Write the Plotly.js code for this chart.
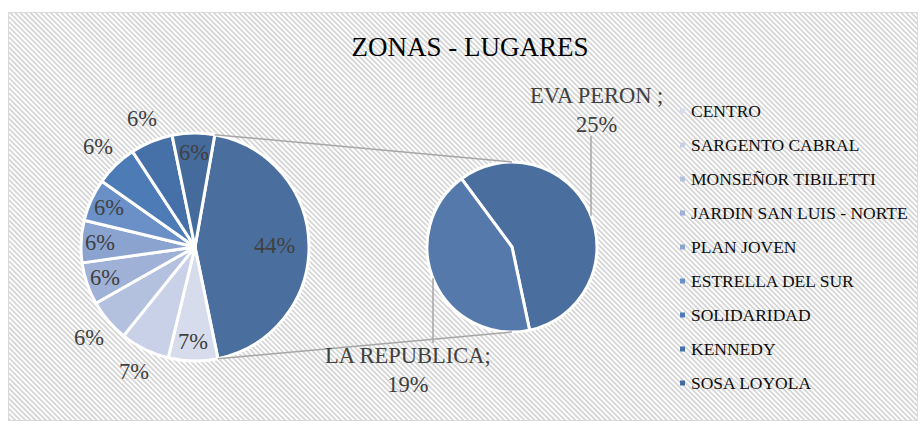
<!DOCTYPE html>
<html>
<head>
<meta charset="utf-8">
<script src="https://cdn.plot.ly/plotly-3.0.1.min.js"></script>
<style>html,body{margin:0;padding:0;background:#fff;}#chart{width:918px;height:421px;}</style>
</head>
<body>
<div id="chart"></div>
<script>
// ---- data ----
const categories = ['CENTRO','SARGENTO CABRAL','MONSEÑOR TIBILETTI','JARDIN SAN LUIS - NORTE','PLAN JOVEN','ESTRELLA DEL SUR','SOLIDARIDAD','KENNEDY','SOSA LOYOLA'];
const values = [7,7,6,6,6,6,6,6,6];
const subCategories = ['EVA PERON','LA REPUBLICA'];
const subSeparators = [' ;', ';'];
const subValues = [25,19];
const titleText = 'ZONAS - LUGARES';

// ---- style ----
const colors = ['#D6DCEC','#C8D1E8','#B4C1DE','#9FB1D6','#8BA3CF','#6B90C7','#4C7BB5','#4670A8','#456A9C'];
const otherColor = '#4A6F9F';
const subColors = ['#4A6E9D','#5579AA'];
const labelPlacement = ['in','out','out','in','in','in','out','out','in'];
const W = 918, H = 421;
const P1 = {cx:195, cy:247, r:114, rot:10};
const P2 = {cx:512, cy:247, r:85, rot:-36.5};
const serif = "Liberation Serif";
const labelFont = {family: serif, size: 22.5, color: '#404040'};

const fx = x => x / W, fy = y => 1 - y / H;
function dom(p){ return {x:[(p.cx-p.r)/W,(p.cx+p.r)/W], y:[(H-p.cy-p.r)/H,(H-p.cy+p.r)/H]}; }
function pt(p, angDeg, f){ const a = angDeg*Math.PI/180; return [p.cx + f*p.r*Math.sin(a), p.cy - f*p.r*Math.cos(a)]; }

const otherValue = subValues.reduce((a,b)=>a+b,0);
const mainValues = [otherValue].concat(values);
const mainLabels = ['Otro'].concat(categories);
const mainColors = [otherColor].concat(colors);
const total = mainValues.reduce((a,b)=>a+b,0);

const annotations = [];
const shapes = [];

// main pie percentage labels
let ang = P1.rot;
const sliceEdges = [];
mainValues.forEach((v,i)=>{
  const span = v/total*360;
  const mid = ang + span/2;
  sliceEdges.push([ang, ang+span]);
  let f;
  if(i===0) f = 0.70; else f = labelPlacement[i-1]==='in' ? 0.83 : 1.22;
  const [x,y] = pt(P1, mid, f);
  annotations.push({xref:'paper', yref:'paper', x:fx(x), y:fy(y), text: Math.round(v/total*100)+'%', showarrow:false, font:labelFont, xanchor:'center', yanchor:'middle'});
  ang += span;
});

// connector lines main -> secondary pie
const [ax,ay] = pt(P1, sliceEdges[0][0], 1);
const [bx,by] = pt(P1, sliceEdges[0][1], 1);
const lineStyle = {color:'#A6A6A6', width:1.5};
shapes.push({type:'line', xref:'paper', yref:'paper', x0:fx(ax), y0:fy(ay), x1:fx(P2.cx), y1:fy(P2.cy-P2.r), line:lineStyle});
shapes.push({type:'line', xref:'paper', yref:'paper', x0:fx(bx), y0:fy(by), x1:fx(P2.cx), y1:fy(P2.cy+P2.r), line:lineStyle});

// secondary pie labels with leader lines
const subLabelPos = [{x:596, y:110, lx:591, ly:136, top:true}, {x:408, y:370, lx:433, ly:343, top:false}];
subCategories.forEach((c,i)=>{
  const s = subLabelPos[i];
  annotations.push({xref:'paper', yref:'paper', x:fx(s.x), y:fy(s.y), text: c + subSeparators[i] + '<br>' + subValues[i] + '%', showarrow:false, font:labelFont, xanchor:'center', yanchor:'middle'});
  const dx = s.lx - P2.cx;
  const edgeY = s.top ? P2.cy - Math.sqrt(P2.r*P2.r - dx*dx) : P2.cy + Math.sqrt(P2.r*P2.r - dx*dx);
  shapes.push({type:'line', xref:'paper', yref:'paper', x0:fx(s.lx), y0:fy(s.ly), x1:fx(s.lx), y1:fy(edgeY), line:lineStyle});
});

// legend
categories.forEach((c,i)=>{
  const y = 111 + 34*i;
  shapes.push({type:'rect', xref:'paper', yref:'paper', x0:fx(680), x1:fx(685), y0:fy(y-2.5), y1:fy(y+2.5), fillcolor:colors[i], line:{width:0}});
  annotations.push({xref:'paper', yref:'paper', x:fx(689), y:fy(y), text:c, showarrow:false, font:{family:serif, size:17.5, color:'#0D0D0D'}, xanchor:'left', yanchor:'middle'});
});

// hatched chart-area background
const bgW = 910, bgH = 409;
const svg = "<svg xmlns='http://www.w3.org/2000/svg' width='"+bgW+"' height='"+bgH+"'><defs><pattern id='p' width='3.6' height='10' patternUnits='userSpaceOnUse' patternTransform='rotate(-45)'><rect width='1.8' height='10' fill='#D6D6D6'/></pattern></defs><rect width='"+bgW+"' height='"+bgH+"' fill='#FFFFFF'/><rect width='"+bgW+"' height='"+bgH+"' fill='url(#p)'/><rect x='0.5' y='0.5' width='"+(bgW-1)+"' height='"+(bgH-1)+"' fill='none' stroke='#D9D9D9'/></svg>";
const bgSrc = 'data:image/svg+xml;charset=utf-8,' + encodeURIComponent(svg);

const traces = [
  {type:'pie', values:mainValues, labels:mainLabels, sort:false, direction:'clockwise', rotation:P1.rot,
   domain:dom(P1), marker:{colors:mainColors, line:{color:'#FFFFFF', width:3}}, textinfo:'none', hoverinfo:'label+percent', showlegend:false},
  {type:'pie', values:subValues, labels:subCategories, sort:false, direction:'clockwise', rotation:P2.rot,
   domain:dom(P2), marker:{colors:subColors, line:{color:'#FFFFFF', width:3}}, textinfo:'none', hoverinfo:'label+value', showlegend:false}
];

const layout = {
  width:W, height:H, margin:{l:0,r:0,t:0,b:0},
  paper_bgcolor:'#FFFFFF', plot_bgcolor:'rgba(0,0,0,0)',
  font:{family:serif},
  title:{text:titleText, x:fx(470), xanchor:'center', y:fy(47), yanchor:'middle', font:{family:serif, size:27, color:'#000000'}},
  showlegend:false,
  images:[{source:bgSrc, xref:'paper', yref:'paper', x:fx(8), y:fy(12), sizex:bgW/W, sizey:bgH/H, xanchor:'left', yanchor:'top', sizing:'stretch', layer:'below'}],
  annotations:annotations,
  shapes:shapes
};

Plotly.newPlot('chart', traces, layout, {displayModeBar:false, staticPlot:true});
</script>
</body>
</html>
